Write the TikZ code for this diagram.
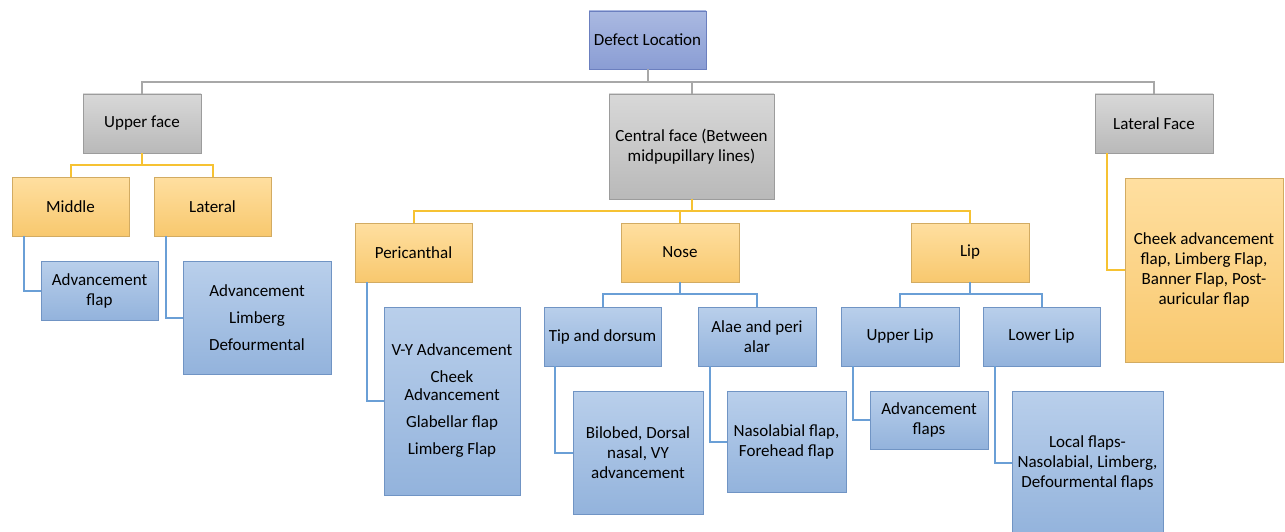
\documentclass[tikz,border=0pt]{standalone}
\usepackage{fontspec}
\setmainfont{Carlito}
\definecolor{dtop}{HTML}{AAB9E1}
\definecolor{dbot}{HTML}{8A9DD4}
\definecolor{dline}{HTML}{6B7FBF}
\definecolor{gtop}{HTML}{D8D8D8}
\definecolor{gbot}{HTML}{B9B9B9}
\definecolor{gline}{HTML}{9C9C9C}
\definecolor{ytop}{HTML}{FFDFA0}
\definecolor{ybot}{HTML}{F8C86E}
\definecolor{yline}{HTML}{D2AB62}
\definecolor{btop}{HTML}{B9CFEB}
\definecolor{bbot}{HTML}{93B3DC}
\definecolor{bline}{HTML}{7094C4}
\definecolor{cgrey}{HTML}{A8A8A8}
\definecolor{cyel}{HTML}{F6C232}
\definecolor{cblue}{HTML}{6A9FD6}
\tikzset{
  box/.style={draw, line width=0.9pt, inner sep=2pt, align=center, text=black,
    font=\fontsize{17}{20}\selectfont},
  dbox/.style={box, draw=dline, top color=dtop, bottom color=dbot},
  gbox/.style={box, draw=gline, top color=gtop, bottom color=gbot},
  ybox/.style={box, draw=yline, top color=ytop, bottom color=ybot},
  bbox/.style={box, draw=bline, top color=btop, bottom color=bbot},
  gcon/.style={draw=cgrey, line width=2pt},
  ycon/.style={draw=cyel, line width=2pt},
  bcon/.style={draw=cblue, line width=2pt},
}
\begin{document}
\begin{tikzpicture}[x=1pt, y=-1pt]
\useasboundingbox (0,0) rectangle (1285,532);
% level 0
\node[dbox, minimum width=117, minimum height=58] (def) at (647.5,40) {Defect Location};
% level 1
\node[gbox, minimum width=118, minimum height=59] (up) at (142,123.5) {Upper face};
\node[gbox, minimum width=165, minimum height=105] (cen) at (691.5,146.5) {Central face (Between\\midpupillary lines)};
\node[gbox, minimum width=118, minimum height=59] (latf) at (1154,123.5) {Lateral Face};
% level 2 upper
\node[ybox, minimum width=117, minimum height=59] (mid) at (70.5,206.5) {Middle};
\node[ybox, minimum width=117, minimum height=59] (lat) at (212.5,206.5) {Lateral};
\node[bbox, minimum width=117, minimum height=59] (af) at (99.5,290.5) {Advancement\\flap};
\node[bbox, minimum width=148, minimum height=113] (ald) at (257,317.5) {Advancement\\[7pt]Limberg\\[7pt]Defourmental};
% level 2 central
\node[ybox, minimum width=117, minimum height=59] (peri) at (413.5,252.5) {Pericanthal};
\node[ybox, minimum width=118, minimum height=59] (nose) at (680,252.5) {Nose};
\node[ybox, minimum width=118, minimum height=59] (lip) at (970,252.5) {Lip};
\node[bbox, minimum width=136, minimum height=188] (perib) at (452,401) {V-Y Advancement\\[7pt]Cheek\\[-2pt]Advancement\\[7pt]Glabellar flap\\[7pt]Limberg Flap};
\node[bbox, minimum width=117, minimum height=59] (tip) at (602.5,336.5) {Tip and dorsum};
\node[bbox, minimum width=118, minimum height=59] (alae) at (757,336.5) {Alae and peri\\alar};
\node[bbox, minimum width=130, minimum height=123] (bil) at (638,452.5) {Bilobed, Dorsal\\nasal, VY\\advancement};
\node[bbox, minimum width=119, minimum height=101] (naso) at (786.5,441.5) {Nasolabial flap,\\Forehead flap};
\node[bbox, minimum width=118, minimum height=59] (ulip) at (900,336.5) {Upper Lip};
\node[bbox, minimum width=117, minimum height=59] (llip) at (1041.5,336.5) {Lower Lip};
\node[bbox, minimum width=118, minimum height=58] (advf) at (929,420) {Advancement\\flaps};
\node[bbox, minimum width=151, minimum height=144] (loc) at (1087.5,463) {Local flaps-\\Nasolabial, Limberg,\\Defourmental flaps};
% lateral face child
\node[ybox, minimum width=158, minimum height=184] (cheek) at (1204,270) {Cheek advancement\\flap, Limberg Flap,\\Banner Flap, Post-\\auricular flap};
% connectors level 0 -> 1
\draw[gcon] (def.south) -- (def.south |- 0,82);
\draw[gcon] (up.north) -- (up.north |- 0,82) -- (latf.north |- 0,82) -- (latf.north);
\draw[gcon] (cen.north) -- (cen.north |- 0,82);
% upper face
\draw[ycon] (up.south) -- (up.south |- 0,165);
\draw[ycon] (mid.north) -- (mid.north |- 0,165) -- (lat.north |- 0,165) -- (lat.north);
\draw[bcon] ([xshift=12pt]mid.south west) |- (af.west);
\draw[bcon] ([xshift=12pt]lat.south west) |- (ald.west);
% central face
\draw[ycon] (cen.south) -- (cen.south |- 0,211);
\draw[ycon] (peri.north) -- (peri.north |- 0,211) -- (lip.north |- 0,211) -- (lip.north);
\draw[ycon] (nose.north) -- (nose.north |- 0,211);
\draw[bcon] ([xshift=12pt]peri.south west) |- (perib.west);
\draw[bcon] (nose.south) -- (nose.south |- 0,294);
\draw[bcon] (tip.north) -- (tip.north |- 0,294) -- (alae.north |- 0,294) -- (alae.north);
\draw[bcon] ([xshift=11pt]tip.south west) |- (bil.west);
\draw[bcon] ([xshift=12pt]alae.south west) |- (naso.west);
\draw[bcon] (lip.south) -- (lip.south |- 0,294);
\draw[bcon] (ulip.north) -- (ulip.north |- 0,294) -- (llip.north |- 0,294) -- (llip.north);
\draw[bcon] ([xshift=12pt]ulip.south west) |- (advf.west);
\draw[bcon] ([xshift=12pt]llip.south west) |- (loc.west);
% lateral face
\draw[ycon] ([xshift=12pt]latf.south west) |- (cheek.west);
\end{tikzpicture}
\end{document}
